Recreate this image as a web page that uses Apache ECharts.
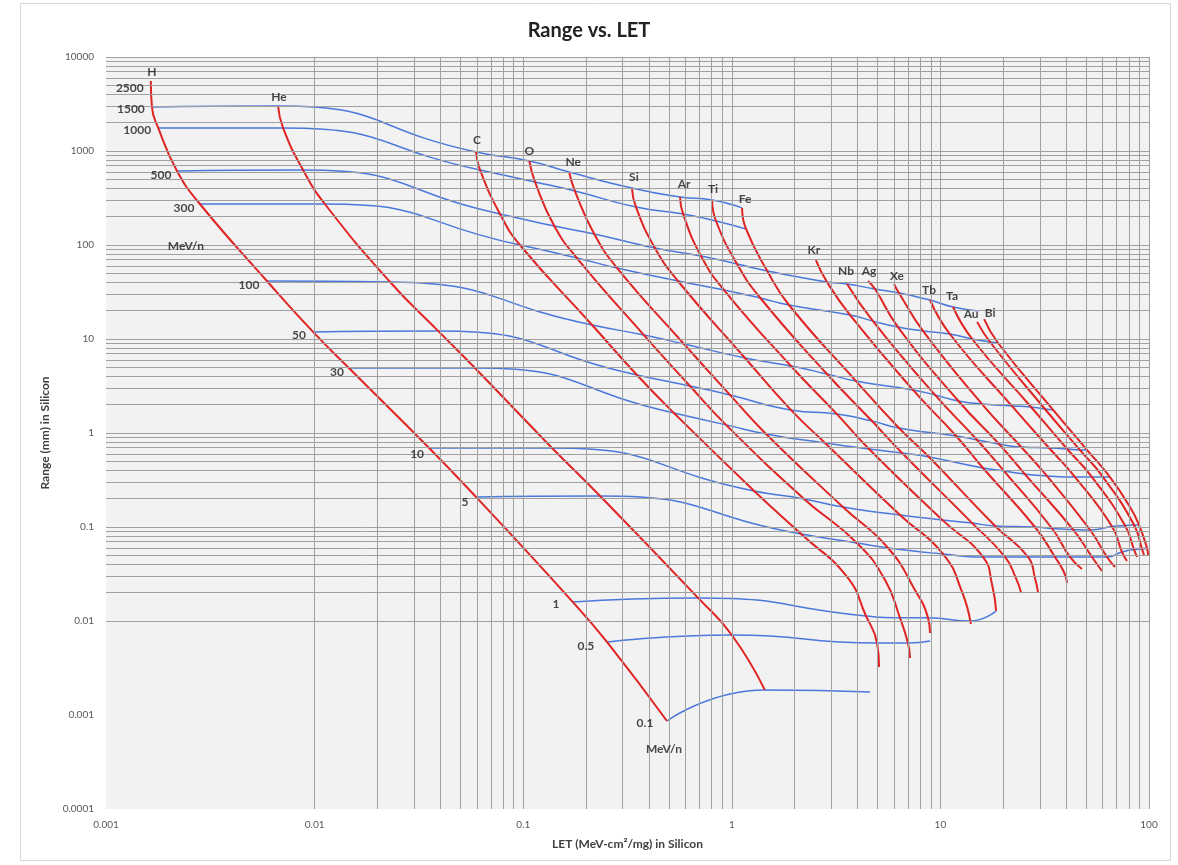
<!DOCTYPE html>
<html><head><meta charset="utf-8">
<script src="https://cdn.jsdelivr.net/npm/echarts@6/dist/echarts.min.js"></script>
<style>html,body{margin:0;padding:0;background:#fff;}#chart{width:1178px;height:865px;}</style>
</head><body><div id="chart"></div>
<script>
// ---------- tick labels ----------
const xTickLabels = ['0.001','0.01','0.1','1','10','100'];
const yTickLabels = ['0.0001','0.001','0.01','0.1','1','10','100','1000','10000'];

// ---------- ion curves: [LET (MeV-cm2/mg), Range (mm)] ----------
const ionNames = ['H','He','C','O','Ne','Si','Ar','Ti','Fe','Kr','Nb','Ag','Xe','Tb','Ta','Au','Bi'];
const H  = [[0.00164,5560],[0.00166,2940],[0.00178,1760],[0.00219,613],[0.00282,273],[0.00591,41.4],[0.00983,11.9],[0.0146,4.91],[0.0354,0.693],[0.0594,0.209],[0.173,0.0159],[0.252,0.00598],[0.489,0.000863]];
const He = [[0.00668,3010],[0.00706,1760],[0.0088,628],[0.0112,273],[0.0230,40.4],[0.0391,12.2],[0.0587,4.91],[0.1375,0.693],[0.2335,0.214],[0.689,0.0176],[1.00,0.0071],[1.44,0.00185]];
const C  = [[0.0594,976],[0.0621,628],[0.0774,214],[0.0965,100],[0.214,14.1],[0.351,4.14],[0.528,1.63],[1.28,0.242],[2.15,0.0842],[3.57,0.0294],[4.40,0.0113],[4.97,0.00583],[5.08,0.00324]];
const O  = [[0.107,783],[0.114,468],[0.141,159],[0.181,72.7],[0.379,11.0],[0.630,3.16],[0.938,1.22],[2.22,0.199],[3.98,0.0676],[5.43,0.0273],[6.40,0.0108],[6.99,0.00583],[7.15,0.00404]];
const Ne = [[0.166,598],[0.177,375],[0.219,131],[0.282,56.9],[0.590,8.85],[0.980,2.54],[1.46,0.976],[3.41,0.163],[5.61,0.0598],[7.55,0.0214],[8.72,0.0108],[8.92,0.00745]];
const Si = [[0.332,404],[0.347,254],[0.428,92.9],[0.552,41.4],[1.157,6.28],[1.92,1.76],[2.80,0.783],[6.40,0.134],[10.3,0.0516],[12.7,0.0204],[14.0,0.00929]];
const Ar = [[0.565,324],[0.584,214],[0.712,76.4],[0.918,33.2],[1.92,5.16],[3.19,1.59],[4.55,0.676],[10.2,0.119],[16.0,0.048],[17.7,0.0242],[18.5,0.0128]];
const Ti = [[0.804,301],[0.840,180],[1.06,62.8],[1.37,27.3],[2.86,4.24],[4.70,1.34],[6.55,0.612],[14.2,0.110],[20.4,0.048],[23.0,0.0287],[24.4,0.0199]];
const Fe = [[1.12,248],[1.17,148],[1.48,52.9],[1.88,23.0],[3.94,3.57],[6.33,1.13],[8.82,0.556],[18.3,0.1025],[26.3,0.048],[28.4,0.0287],[29.4,0.0199]];
const Kr = [[2.53,69.2],[2.86,40.4],[3.69,18.0],[7.39,2.87],[11.9,0.929],[16.0,0.424],[28.4,0.1],[35.4,0.048],[39.1,0.0332],[40.5,0.0254]];
const Nb = [[3.57,38.5],[4.75,15.5],[9.42,2.54],[15.0,0.843],[20.2,0.394],[34.3,0.0964],[41.8,0.048],[47.7,0.0357]];
const Ag = [[4.50,41.4],[4.86,34.0],[6.26,13.4],[12.2,2.19],[19.1,0.764],[25.4,0.366],[43.2,0.0941],[53.3,0.048],[59.5,0.034]];
const Xe = [[5.99,38.5],[6.33,30.9],[8.25,12.2],[15.8,2.04],[24.4,0.710],[32.4,0.349],[52.2,0.0929],[62.9,0.048],[68.7,0.0375]];
const Tb = [[8.92,26.0],[11.1,11.3],[22.0,1.94],[33.2,0.693],[44.2,0.340],[66.5,0.101],[74.2,0.0542],[78.4,0.0435]];
const Ta = [[11.5,21.9],[14.2,10.0],[27.2,1.89],[40.5,0.676],[53.3,0.340],[76.7,0.104],[84.8,0.0576],[87.6,0.048]];
const Au = [[15.0,15.2],[17.3,9.29],[31.7,1.80],[46.7,0.659],[60.2,0.340],[84.8,0.105],[92.6,0.0583],[94.6,0.0504]];
const Bi = [[16.2,16.3],[18.9,9.07],[34.7,1.76],[50.5,0.659],[65.0,0.340],[81.1,0.163],[89.6,0.105],[97.8,0.0598],[98.9,0.0504]];

// ---------- constant-energy lines (MeV/n) ----------
const energyNames = ['1500','1000','500','300','100','50','30','10','5','1','0.5','0.1'];
const E1500 = [[0.00166,2940],[0.00668,3010],[0.0594,976],[0.107,783],[0.166,598],[0.332,404],[0.565,324],[0.804,301],[1.12,248]];
const E1000 = [[0.00178,1760],[0.00706,1760],[0.0621,628],[0.114,468],[0.177,375],[0.347,254],[0.584,214],[0.840,180],[1.17,148]];
const E500  = [[0.00219,613],[0.0088,628],[0.0774,214],[0.141,159],[0.219,131],[0.428,92.9],[0.712,76.4],[1.06,62.8],[1.48,52.9],[2.86,40.4],[3.57,38.5],[4.86,34.0],[6.33,30.9],[8.92,26.0],[11.5,21.9],[15.2,19.9]];
const E300  = [[0.00282,273],[0.0112,273],[0.0965,100],[0.181,72.7],[0.282,56.9],[0.552,41.4],[0.918,33.2],[1.37,27.3],[1.88,23.0],[3.69,18.0],[4.75,15.5],[6.26,13.4],[8.25,12.2],[11.1,11.3],[14.2,10.0],[17.3,9.29],[18.9,9.07]];
const E100  = [[0.00591,41.4],[0.0230,40.4],[0.214,14.1],[0.379,11.0],[0.590,8.85],[1.157,6.28],[1.92,5.16],[2.86,4.24],[3.94,3.57],[7.39,2.87],[9.42,2.54],[12.2,2.19],[15.8,2.04],[22.0,1.94],[27.2,1.89],[31.7,1.80],[34.7,1.76]];
const E50   = [[0.00983,11.9],[0.0391,12.2],[0.351,4.14],[0.630,3.16],[0.980,2.54],[1.92,1.76],[3.19,1.59],[4.70,1.34],[6.33,1.13],[11.9,0.929],[15.0,0.843],[19.1,0.764],[24.4,0.710],[33.2,0.693],[40.5,0.676],[46.7,0.659],[50.5,0.659]];
const E30   = [[0.0146,4.91],[0.0587,4.91],[0.528,1.63],[0.938,1.22],[1.46,0.976],[2.80,0.783],[4.55,0.676],[6.55,0.612],[8.82,0.556],[16.0,0.424],[20.2,0.394],[25.4,0.366],[32.4,0.349],[44.2,0.340],[53.3,0.340],[60.2,0.340],[65.0,0.340]];
const E10   = [[0.0354,0.693],[0.1375,0.693],[1.28,0.242],[2.22,0.199],[3.41,0.163],[6.40,0.134],[10.2,0.119],[14.2,0.110],[18.3,0.1025],[28.4,0.1],[34.3,0.0964],[43.2,0.0941],[52.2,0.0929],[66.5,0.101],[76.7,0.104],[84.8,0.105],[89.6,0.105]];
const E5    = [[0.0594,0.209],[0.2335,0.214],[2.15,0.0842],[3.98,0.0676],[5.61,0.0598],[10.3,0.0516],[16.0,0.048],[20.4,0.048],[26.3,0.048],[35.4,0.048],[41.8,0.048],[53.3,0.048],[62.9,0.048],[74.2,0.0542],[84.8,0.0576],[92.6,0.0583],[97.8,0.0598]];
const E1    = [[0.173,0.0159],[0.689,0.0176],[4.40,0.0113],[6.40,0.0108],[8.72,0.0108],[13.9,0.0100],[18.5,0.0128]];
const E05   = [[0.252,0.00598],[1.00,0.0071],[4.97,0.00583],[6.99,0.00583],[8.92,0.00613]];
const E01   = [[0.489,0.000863],[1.44,0.00185],[4.60,0.00176]];

// ---------- assembly ----------
const ions = [H,He,C,O,Ne,Si,Ar,Ti,Fe,Kr,Nb,Ag,Xe,Tb,Ta,Au,Bi];
const energyLines = [E1500,E1000,E500,E300,E100,E50,E30,E10,E5,E1,E05,E01];

// label placement (styling only, pixel offsets)
const ionLabelOffset = [[1,-9],[1,-9],[1,-12],[0,-10],[4,-10],[2,-11],[4,-13],[1,-11],[3,-9],[-2,-10],[-1,-13],[1,-10],[3,-8],[-1,-10],[-1,-11],[-6,-8],[6,-6]];
const energyLabelOffset = [[-21,2],[-21,2],[-16,4],[-16,4],[-18,4],[-14,3],[-12,4],[-12,6],[-11,5],[-17,2],[-21,4],[-22,2]];

const RED = '#e02424', BLUE = '#4a78dc';
const FONT = 'Lato, "Open Sans", sans-serif';

const gridX = [], gridY = [];
for (let k = -3; k <= 1; k++) for (let m = 1; m <= 9; m++) gridX.push(+(m * Math.pow(10, k)).toPrecision(3));
gridX.push(100);
for (let k = -4; k <= 3; k++) for (let m = 1; m <= 9; m++) gridY.push(+(m * Math.pow(10, k)).toPrecision(3));
gridY.push(10000);

const labelStyle = {fontFamily: FONT, fontWeight: 'bold', fontSize: 12, color: '#1a1a1a'};
const labelData = [];
ions.forEach((pts, i) => labelData.push({value: pts[0], name: ionNames[i], label: Object.assign({offset: ionLabelOffset[i]}, labelStyle)}));
energyLines.forEach((pts, i) => labelData.push({value: pts[0], name: energyNames[i], label: Object.assign({offset: energyLabelOffset[i]}, labelStyle)}));
labelData.push({value: H[0], name: '2500', label: Object.assign({offset: [-21, 7]}, labelStyle)});
labelData.push({value: H[4], name: 'MeV/n', label: Object.assign({offset: [-14, 42]}, labelStyle)});
labelData.push({value: H[H.length - 1], name: 'MeV/n', label: Object.assign({offset: [-3, 28]}, labelStyle)});

const series = [];
series.push({
  type: 'line', data: [], silent: true, z: 1,
  markLine: {
    silent: true, symbol: ['none', 'none'], animation: false,
    label: {show: false},
    lineStyle: {color: '#a0a0a0', width: 1, type: 'solid'},
    emphasis: {disabled: true},
    data: gridX.map(v => ({xAxis: v})).concat(gridY.map(v => ({yAxis: v})))
  }
});
energyLines.forEach((pts, i) => series.push({
  type: 'line', name: energyNames[i] + ' MeV/n', data: pts, smooth: 0.55, smoothConstraint: false, symbol: 'none',
  lineStyle: {color: BLUE, width: 1.5}, z: 3, silent: true
}));
ions.forEach((pts, i) => series.push({
  type: 'line', name: ionNames[i], data: pts, smooth: 0.5, symbol: 'none',
  lineStyle: {color: RED, width: 2}, z: 4, silent: true
}));
series.push({
  type: 'scatter', data: labelData, symbolSize: 1, z: 6, silent: true,
  itemStyle: {color: 'rgba(0,0,0,0)'},
  label: {show: true, position: 'inside', formatter: p => p.name}
});

const chart = echarts.init(document.getElementById('chart'));
chart.setOption({
  animation: false,
  backgroundColor: '#ffffff',
  title: {text: 'Range vs. LET', left: 'center', top: 16,
    textStyle: {fontFamily: FONT, fontWeight: 'bold', fontSize: 20, color: '#222'}},
  grid: {left: 106, right: 29, top: 57, bottom: 56, show: true, backgroundColor: '#f2f2f2', borderWidth: 0, outerBoundsMode: 'none', containLabel: false},
  xAxis: {
    type: 'log', logBase: 10, min: 0.001, max: 100, interval: 1,
    axisLine: {show: false}, axisTick: {show: false}, splitLine: {show: false},
    axisLabel: {color: '#595959', fontSize: 10, fontFamily: FONT, margin: 11,
      formatter: v => xTickLabels[Math.round(Math.log10(v)) + 3]},
    name: 'LET (MeV-cm²/mg) in Silicon', nameLocation: 'middle', nameGap: 29,
    nameTextStyle: {fontFamily: FONT, fontWeight: 'bold', fontSize: 12, color: '#404040'}
  },
  yAxis: {
    type: 'log', logBase: 10, min: 0.0001, max: 10000, interval: 1,
    axisLine: {show: false}, axisTick: {show: false}, splitLine: {show: false},
    axisLabel: {color: '#595959', fontSize: 10, fontFamily: FONT, margin: 12,
      formatter: v => yTickLabels[Math.round(Math.log10(v)) + 4]},
    name: 'Range (mm) in Silicon', nameLocation: 'middle', nameGap: 55, nameRotate: 90,
    nameTextStyle: {fontFamily: FONT, fontWeight: 'bold', fontSize: 12, color: '#404040'}
  },
  graphic: [{type: 'rect', shape: {x: 20.5, y: 3.5, width: 1150, height: 857}, silent: true, z: -1,
    style: {fill: 'none', stroke: '#d9d9d9', lineWidth: 1}}],
  series: series
});
</script></body></html>
